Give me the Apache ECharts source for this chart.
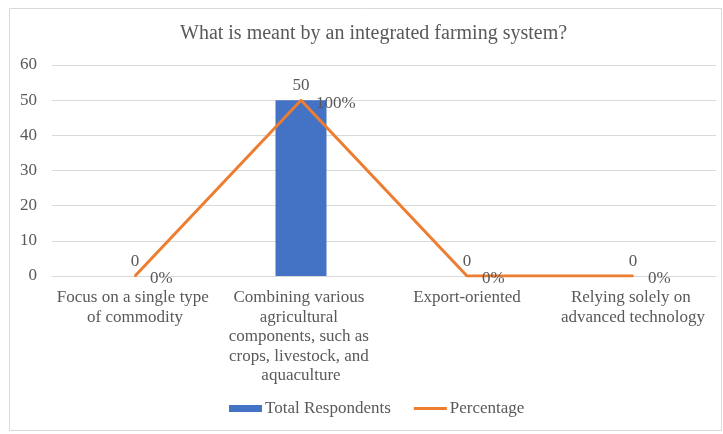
<!DOCTYPE html>
<html>
<head>
<meta charset="utf-8">
<script src="https://cdn.jsdelivr.net/npm/echarts@6/dist/echarts.min.js"></script>
<style>
html,body{margin:0;padding:0;background:#fff;}
#chart{width:723px;height:434px;}
</style>
</head>
<body>
<div id="chart"></div>
<script>
const titleText = 'What is meant by an integrated farming system?';
const categories = [
  'Focus on a single type of commodity',
  'Combining various agricultural components, such as crops, livestock, and aquaculture',
  'Export-oriented',
  'Relying solely on advanced technology'
];
const totalRespondents = [0, 50, 0, 0];
const percentage = [0, 1, 0, 0];
const yTicks = [0, 10, 20, 30, 40, 50, 60];
const seriesNames = ['Total Respondents', 'Percentage'];

const FONT = '"Liberation Serif", "Times New Roman", serif';
const TXT = '#595959';

const chart = echarts.init(document.getElementById('chart'), null, {renderer: 'canvas'});
chart.setOption({
  animation: false,
  backgroundColor: '#fff',
  textStyle: {fontFamily: FONT},
  title: {
    text: titleText,
    left: 180,
    top: 24,
    padding: 0,
    textStyle: {fontFamily: FONT, fontSize: 20, fontWeight: 'normal', color: TXT}
  },
  graphic: [{
    type: 'rect',
    shape: {x: 9.5, y: 8.5, width: 712, height: 422},
    style: {fill: 'none', stroke: '#d9d9d9', lineWidth: 1},
    silent: true
  }],
  legend: {
    bottom: 17,
    left: 229,
    padding: 0,
    itemWidth: 33,
    itemHeight: 7,
    itemGap: 23,
    textStyle: {fontFamily: FONT, fontSize: 17, color: TXT, padding: [0, 0, 0, -2]},
    data: [
      {name: seriesNames[0], icon: 'rect'},
      {name: seriesNames[1], icon: 'path://M0,0H32V3H0Z'}
    ]
  },
  grid: {left: 52, right: 7, top: 65, bottom: 158, containLabel: false},
  xAxis: {
    type: 'category',
    data: categories,
    axisLine: {show: true, lineStyle: {color: '#d9d9d9'}},
    axisTick: {show: false},
    axisLabel: {
      interval: 0,
      width: 160,
      overflow: 'break',
      margin: 12,
      lineHeight: 19.5,
      fontFamily: FONT,
      fontSize: 17,
      color: TXT
    }
  },
  yAxis: [{
    type: 'value',
    min: yTicks[0],
    max: yTicks[yTicks.length - 1],
    interval: 10,
    axisLine: {show: false},
    axisTick: {show: false},
    splitLine: {lineStyle: {color: '#d9d9d9', width: 1}},
    axisLabel: {margin: 15, fontFamily: FONT, fontSize: 17, color: TXT}
  }, {
    type: 'value',
    min: 0,
    max: 1.2,
    show: false,
    splitLine: {show: false}
  }],
  series: [{
    name: seriesNames[0],
    type: 'bar',
    data: totalRespondents,
    barWidth: 51,
    itemStyle: {color: '#4472C4'},
    label: {show: true, position: 'top', distance: 6, fontFamily: FONT, fontSize: 17, color: TXT}
  }, {
    name: seriesNames[1],
    type: 'line',
    yAxisIndex: 1,
    data: percentage,
    symbol: 'circle',
    symbolSize: 2,
    showSymbol: true,
    lineStyle: {color: '#ED7D31', width: 3},
    itemStyle: {color: '#ED7D31'},
    label: {
      show: true,
      position: 'right',
      distance: 14,
      offset: [0, 3],
      fontFamily: FONT, fontSize: 17, color: TXT,
      formatter: p => Math.round(p.value * 100) + '%'
    }
  }]
});
</script>
</body>
</html>
